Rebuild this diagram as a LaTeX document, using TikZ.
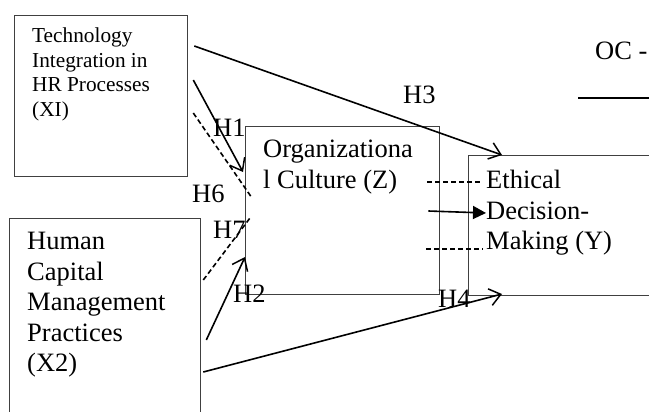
\documentclass[tikz,border=0pt]{standalone}
\usepackage{fontspec}
\setmainfont{Liberation Serif}
\usetikzlibrary{arrows.meta}
\begin{document}
\begin{tikzpicture}[x=1pt,y=-1pt,
 box/.style={draw=black!75, line width=1.3pt, rectangle, inner sep=0pt, anchor=north west},
 lbl/.style={inner sep=0pt, anchor=base west, font=\fontsize{26.5}{30}\selectfont},
 txt/.style={inner sep=0pt, anchor=north west, align=left, font=\fontsize{26.5}{30.5}\selectfont},
 smalltxt/.style={inner sep=0pt, anchor=north west, align=left, font=\fontsize{21.3}{24.6}\selectfont},
 link/.style={line width=1.6pt},
 opn/.style={link, -{Straight Barb[length=11pt,width=17pt,line width=1.5pt]}},
 filled/.style={link, -{Triangle[length=13pt,width=13pt]}},
 dsh/.style={link, dash pattern=on 5pt off 3pt}]
\useasboundingbox (0,0) rectangle (649,412);
\begin{scope}
\clip (0,0) rectangle (649,412);
% boxes
\node[box, minimum width=173pt, minimum height=161pt] (x1) at (14,15) {};
\node[box, minimum width=191pt, minimum height=212pt] (x2) at (9,218) {};
\node[box, minimum width=194pt, minimum height=168pt] (z) at (245,126) {};
\node[box, minimum width=200pt, minimum height=140pt] (y) at (468,155) {};
% texts
\node[smalltxt] (tx1) at (32,27.5) {Technology\\Integration in\\HR Processes\\(XI)};
\node[txt] (tx2) at (27,232) {Human\\Capital\\Management\\Practices\\(X2)};
\node[txt] (tz) at (263,140) {Organizationa\\l Culture (Z)};
\node[txt] (ty) at (486,170) {Ethical\\Decision-\\Making (Y)};
\node[lbl] (oc) at (595,60) {OC -};
\draw[line width=1.6pt] (578,98) -- (660,98);
% connectors
\draw[opn] ([shift={(6,31)}]x1.north east) -- ([shift={(34,0)}]y.north west);
\draw[opn] ([shift={(5,65)}]x1.north east) -- ([shift={(-2,46)}]z.north west);
\draw[dsh] ([shift={(5,98)}]x1.north east) -- ([shift={(7,72)}]z.north west);
\draw[dsh] ([shift={(2,62)}]x2.north east) -- ([shift={(5,92)}]z.north west);
\draw[opn] ([shift={(5,122)}]x2.north east) -- ([shift={(0,131)}]z.north west);
\draw[opn] ([shift={(2,154)}]x2.north east) -- ([shift={(34,139)}]y.north west);
\draw[dsh] ([shift={(-13,56)}]z.north east) -- ([shift={(15,27)}]y.north west);
\draw[filled] ([shift={(-12,85)}]z.north east) -- ([shift={(18,58)}]y.north west);
\draw[dsh] ([shift={(-14,123)}]z.north east) -- ([shift={(15,94)}]y.north west);
% labels
\node[lbl] (h1) at (213,137) {H1};
\node[lbl] (h6) at (192,203) {H6};
\node[lbl] (h7) at (213,238) {H7};
\node[lbl] (h2) at (233,302) {H2};
\node[lbl] (h3) at (403,103) {H3};
\node[lbl] (h4) at (438,307) {H4};
\end{scope}
\end{tikzpicture}
\end{document}
